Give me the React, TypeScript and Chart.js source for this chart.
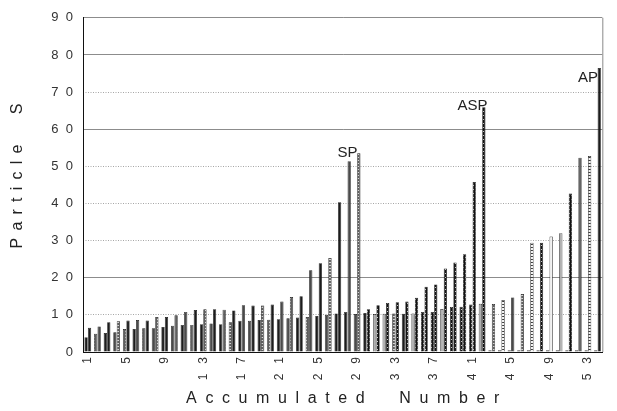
import { useEffect, useRef } from 'react';
import { Chart, registerables } from 'chart.js';

Chart.register(...registerables);

const categories = [
  '1', '2', '3', '4', '5', '6', '7', '8', '9', '10', '11', '12', '13', '14', '15', '16', '17', '18',
  '19', '20', '21', '22', '23', '24', '25', '26', '27', '28', '29', '30', '31', '32', '33', '34', '35', '36',
  '37', '38', '39', '40', '41', '42', '43', '44', '45', '46', '47', '48', '49', '50', '51', '52', '53', '54',
];

const xTickLabels = ['1', '5', '9', '13', '17', '21', '25', '29', '33', '37', '41', '45', '49', '53'];
const yTickValues = [0, 10, 20, 30, 40, 50, 60, 70, 80, 90];
const solidGridValues = [20, 60, 80, 90];

const lowValues = [
  4.0, 4.9, 5.1, 5.3, 6.2, 6.2, 6.4, 6.4, 6.7, 7.1, 7.3, 7.3, 7.5, 7.7, 7.5, 8.0, 8.4, 8.4,
  8.6, 8.7, 8.8, 9.1, 9.3, 9.4, 9.7, 10.0, 10.4, 10.8, 10.2, 10.5, 10.2, 10.3, 10.4, 10.3, 10.4, 10.8,
  10.8, 11.6, 12.1, 12.2, 12.8, 13.0, 0.5, 0.5, 0.5, 0.5, 0.5, 0.5, 0.5, 0.5, 0.5, 0.5, 0.5, 0.5,
];

const highValues = [
  6.5, 6.9, 8.0, 8.3, 8.5, 8.6, 8.5, 9.4, 9.4, 9.9, 10.8, 11.3, 11.5, 11.5, 11.4, 11.2, 12.6, 12.5,
  12.5, 12.8, 13.6, 14.8, 15.0, 22.0, 23.9, 25.3, 40.3, 51.4, 53.5, 11.5, 12.6, 13.2, 13.4, 13.6, 14.6, 17.6,
  18.2, 22.5, 24.1, 26.3, 45.8, 65.9, 12.9, 14.0, 14.7, 15.6, 29.4, 29.4, 31.1, 32.0, 42.7, 52.3, 52.8, 76.5,
];

// fill codes: d dark, m mid grey, g grey dotted, l light grey, w white, b beaded black, o white dashed
const lowFills = 'dgdmgdgmdmdgdmdgdmdgdmdgdmddmdllgdlbblbbblmmmmmmmmmmmm'.split('');
const highFills = 'dmdgdmdgdgmdgdgdmdgdmgdmdgdmgbbbbbbbbbbbbbgomgobwlbgod'.split('');

const labelNames = ['SP', 'ASP', 'AP'];
const labelIndex = [27, 40, 52];
const labelValue = [52.5, 65.2, 72.7];

const FONT = "'Liberation Sans', Arial, sans-serif";

function makeFill(code: string): string | CanvasPattern {
  if (code === 'd') return '#1c1c1c';
  if (code === 'm') return '#4a4a4a';
  if (code === 'l') return '#b0b0b0';
  if (code === 'w') return '#f2f2f2';
  const c = document.createElement('canvas');
  const x = c.getContext('2d') as CanvasRenderingContext2D;
  if (code === 'g') {
    c.width = 4; c.height = 3;
    x.fillStyle = '#5e5e5e'; x.fillRect(0, 0, 4, 3);
    x.fillStyle = '#d4d4d4'; x.fillRect(1, 1, 2, 1);
  } else if (code === 'b') {
    c.width = 4; c.height = 4;
    x.fillStyle = '#121212'; x.fillRect(0, 0, 4, 4);
    x.fillStyle = '#c8c8c8'; x.fillRect(1, 1, 1, 1); x.fillRect(3, 3, 1, 1);
  } else {
    c.width = 4; c.height = 3;
    x.fillStyle = '#f4f4f4'; x.fillRect(0, 0, 4, 3);
    x.fillStyle = '#3a3a3a'; x.fillRect(0, 1, 4, 1);
  }
  return x.createPattern(c, 'repeat') as CanvasPattern;
}

function spaced(s: string, gap: string) {
  return s.split('').join(gap);
}

function drawSpaced(ctx: CanvasRenderingContext2D, text: string, spacing: number) {
  let total = 0;
  const widths = text.split('').map((ch) => ctx.measureText(ch).width);
  widths.forEach((w, i) => { total += w + (i < widths.length - 1 ? spacing : 0); });
  let pos = -total / 2;
  text.split('').forEach((ch, i) => {
    ctx.fillText(ch, pos, 0);
    pos += widths[i] + spacing;
  });
}

const decorPlugin = {
  id: 'decor',
  afterDraw(chart: any) {
    const { ctx, chartArea } = chart;
    const xs = chart.scales.x;
    const ys = chart.scales.y;
    ctx.save();
    // right border of plot
    ctx.strokeStyle = '#8a8a8a';
    ctx.lineWidth = 1;
    ctx.beginPath();
    ctx.moveTo(chartArea.right + 0.5, chartArea.top);
    ctx.lineTo(chartArea.right + 0.5, chartArea.bottom);
    ctx.stroke();

    ctx.fillStyle = '#222';
    ctx.textBaseline = 'middle';
    ctx.textAlign = 'left';
    // x axis title
    ctx.font = `16px ${FONT}`;
    ctx.save();
    ctx.translate((chartArea.left + chartArea.right) / 2, 399);
    drawSpaced(ctx, 'Accumulated  Number', 8.6);
    ctx.restore();
    // y axis title
    ctx.save();
    ctx.translate(18, 176);
    ctx.rotate(-Math.PI / 2);
    drawSpaced(ctx, 'Particle  S', 7.2);
    ctx.restore();

    // annotations
    ctx.font = `15px 'Liberation Sans Narrow', ${FONT}`;
    ctx.textAlign = 'center';
    ctx.textBaseline = 'alphabetic';
    labelNames.forEach((name, i) => {
      const px = xs.getPixelForValue(labelIndex[i]);
      const py = ys.getPixelForValue(labelValue[i]);
      ctx.fillText(name, px, py);
    });
    ctx.restore();
  },
};

export default function App() {
  const ref = useRef<HTMLCanvasElement | null>(null);

  useEffect(() => {
    document.body.style.margin = '0';
    const canvas = ref.current;
    if (!canvas) return;
    const chart = new Chart(canvas, {
      type: 'bar',
      data: {
        labels: categories,
        datasets: [
          {
            label: 'low',
            data: lowValues,
            backgroundColor: lowFills.map(makeFill) as any,
            borderColor: '#1a1a1a',
            borderWidth: 0.7,
            categoryPercentage: 0.72,
            barPercentage: 0.95,
          },
          {
            label: 'high',
            data: highValues,
            backgroundColor: highFills.map(makeFill) as any,
            borderColor: '#1a1a1a',
            borderWidth: 0.7,
            categoryPercentage: 0.72,
            barPercentage: 0.95,
          },
        ],
      },
      options: {
        responsive: false,
        animation: false,
        layout: { padding: { top: 9, right: 9, bottom: 0, left: 0 } },
        plugins: { legend: { display: false }, tooltip: { enabled: false } },
        scales: {
          x: {
            grid: { display: false, drawTicks: false },
            border: { display: true, color: '#111', width: 1 },
            ticks: {
              autoSkip: false,
              minRotation: 90,
              maxRotation: 90,
              padding: 5,
              color: '#333',
              font: { family: FONT, size: 12 },
              callback: (_v: any, i: number) =>
                xTickLabels.includes(categories[i]) ? spaced(categories[i], '   ') : '',
            },
            afterFit: (s: any) => { s.height = 59; },
          },
          y: {
            min: 0,
            max: 90,
            afterBuildTicks: (s: any) => { s.ticks = yTickValues.map((v) => ({ value: v })); },
            ticks: {
              padding: 10,
              color: '#333',
              font: { family: FONT, size: 13 },
              callback: (v: any) => spaced(String(v), '  '),
            },
            grid: {
              drawTicks: false,
              lineWidth: 1,
              color: (c: any) => (solidGridValues.includes(c.tick?.value) ? '#8c8c8c' : 'rgba(0,0,0,0)'),
            },
            border: { color: '#111', width: 1 },
            afterFit: (s: any) => { s.width = 83; },
          },
          y2: {
            position: 'left',
            min: 0,
            max: 90,
            afterBuildTicks: (s: any) => { s.ticks = yTickValues.map((v) => ({ value: v })); },
            ticks: { display: false },
            grid: {
              drawTicks: false,
              lineWidth: 1,
              color: (c: any) =>
                c.tick && c.tick.value > 0 && !solidGridValues.includes(c.tick.value) ? '#a6a6a6' : 'rgba(0,0,0,0)',
            },
            border: { display: false, dash: [1, 1.5] },
            afterFit: (s: any) => { s.width = 0; },
          },
        },
      } as any,
      plugins: [decorPlugin],
    });
    return () => chart.destroy();
  }, []);

  return <canvas ref={ref} width={617} height={411} style={{ display: 'block' }} />;
}
